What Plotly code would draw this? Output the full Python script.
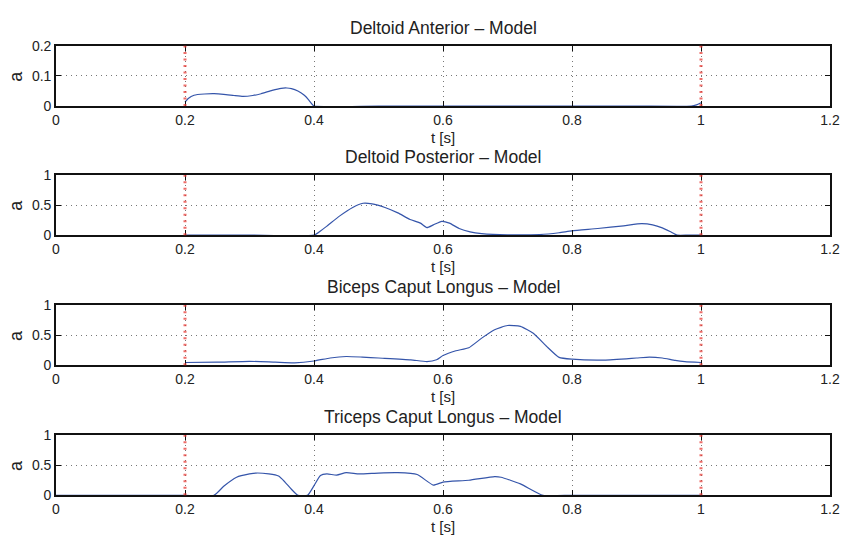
import plotly.graph_objects as go

titles = ["Deltoid Anterior \u2013 Model", "Deltoid Posterior \u2013 Model",
          "Biceps Caput Longus \u2013 Model", "Triceps Caput Longus \u2013 Model"]

# Deltoid Anterior
t1 = [0.2, 0.205, 0.214, 0.23, 0.245, 0.26, 0.276, 0.29, 0.305, 0.318, 0.335, 0.349, 0.358, 0.365, 0.375, 0.385, 0.392, 0.397, 0.4,
      0.5, 0.7, 0.9, 0.985, 0.993, 1.0]
a1 = [0.013, 0.025, 0.036, 0.040, 0.041, 0.039, 0.035, 0.032, 0.035, 0.041, 0.052, 0.059, 0.060, 0.058, 0.050, 0.036, 0.020, 0.006, 0.0,
      0.0, 0.0, 0.0, 0.0, 0.004, 0.011]

# Deltoid Posterior
t2 = [0.2, 0.3, 0.4, 0.41, 0.42, 0.44, 0.46, 0.476, 0.49, 0.51, 0.53, 0.549, 0.565, 0.575, 0.585, 0.598, 0.61, 0.625, 0.642, 0.66,
      0.7, 0.75, 0.78, 0.8, 0.84, 0.88, 0.908, 0.925, 0.94, 0.952, 0.963, 0.98, 1.0]
a2 = [0.0, 0.0, 0.0, 0.07, 0.15, 0.32, 0.46, 0.53, 0.52, 0.46, 0.37, 0.26, 0.20, 0.125, 0.17, 0.23, 0.20, 0.11, 0.054, 0.025,
      0.005, 0.01, 0.04, 0.07, 0.11, 0.155, 0.19, 0.17, 0.12, 0.06, 0.0, 0.0, 0.0]

# Biceps Caput Longus
t3 = [0.2, 0.25, 0.3, 0.34, 0.37, 0.4, 0.425, 0.45, 0.475, 0.5, 0.55, 0.575, 0.59, 0.6, 0.62, 0.64, 0.66, 0.68, 0.7, 0.72,
      0.74, 0.76, 0.78, 0.8, 0.85, 0.9, 0.92, 0.94, 0.96, 0.975, 1.0]
a3 = [0.045, 0.05, 0.065, 0.05, 0.04, 0.07, 0.12, 0.145, 0.135, 0.12, 0.09, 0.06, 0.09, 0.16, 0.24, 0.29, 0.45, 0.59, 0.66, 0.645,
      0.53, 0.32, 0.13, 0.10, 0.085, 0.12, 0.135, 0.12, 0.08, 0.06, 0.045]

# Triceps Caput Longus
t4 = [0.0, 0.1, 0.2, 0.245, 0.26, 0.28, 0.3, 0.31, 0.33, 0.345, 0.355, 0.365, 0.375, 0.39, 0.4, 0.41, 0.42, 0.435, 0.45, 0.47,
      0.5, 0.53, 0.56, 0.585, 0.6, 0.64, 0.68, 0.69, 0.72, 0.755, 0.8, 0.9, 1.0]
a4 = [0.0, 0.0, 0.0, 0.0, 0.15, 0.30, 0.355, 0.37, 0.355, 0.32, 0.22, 0.10, 0.0, 0.0, 0.16, 0.33, 0.355, 0.335, 0.375, 0.355,
      0.37, 0.375, 0.345, 0.17, 0.22, 0.25, 0.31, 0.30, 0.19, 0.0, 0.0, 0.0, 0.0]

series_t = [t1, t2, t3, t4]
series_a = [a1, a2, a3, a4]
y_ranges = [[0, 0.2], [0, 1], [0, 1], [0, 1]]
y_ticks = [[0, 0.1, 0.2], [0, 0.5, 1], [0, 0.5, 1], [0, 0.5, 1]]
y_ticktext = [["0", "0.1", "0.2"], ["0", "0.5", "1"], ["0", "0.5", "1"], ["0", "0.5", "1"]]
x_ticks = [0, 0.2, 0.4, 0.6, 0.8, 1.0, 1.2]
x_ticktext = ["0", "0.2", "0.4", "0.6", "0.8", "1", "1.2"]
markers_t = [0.2, 1.0]

W, H = 845, 546
tops = [39, 172, 306, 440]
ph = 62

txt = "#222"
font = dict(family="Liberation Sans, Arial, sans-serif", size=14, color=txt)
fig = go.Figure()
layout = dict(width=W, height=H, margin=dict(l=56, r=15, t=0, b=0),
              paper_bgcolor="white", plot_bgcolor="white", showlegend=False, font=font)
annotations = []
shapes = []
for i in range(4):
    n = "" if i == 0 else str(i + 1)
    xa, ya = "x" + n, "y" + n
    top = tops[i]
    dom = [1 - (top + ph) / H, 1 - top / H]
    axcommon = dict(showline=True, linecolor="#111", linewidth=1.6, mirror="ticks", ticks="inside",
                    ticklen=5, tickcolor="#111", tickwidth=1.2, showgrid=True, gridcolor="#777",
                    griddash="1px,4px", gridwidth=1, zeroline=False, tickfont=dict(size=14, color=txt))
    layout["xaxis" + n] = dict(axcommon, domain=[0, 1], range=[0, 1.2], tickvals=x_ticks, ticktext=x_ticktext,
                               anchor=ya)
    layout["yaxis" + n] = dict(axcommon, domain=dom, range=y_ranges[i], tickvals=y_ticks[i],
                               ticktext=y_ticktext[i], anchor=xa)
    annotations.append(dict(text=titles[i], xref="x" + n + " domain", yref="y" + n + " domain", x=0.5, y=1,
                            yanchor="middle", yshift=18, showarrow=False, font=dict(size=17.5, color=txt)))
    annotations.append(dict(text="t [s]", xref="x" + n + " domain", yref="y" + n + " domain", x=0.5, y=0,
                            yanchor="middle", yshift=-31, showarrow=False, font=dict(size=15, color=txt)))
    annotations.append(dict(text="a", xref="paper", yref="y" + n + " domain", x=-0.052, xanchor="center",
                            y=0.5, yanchor="middle", textangle=-90, showarrow=False,
                            font=dict(size=18, color=txt)))
    for mt in markers_t:
        shapes.append(dict(type="line", xref=xa, yref="y" + n + " domain", x0=mt, x1=mt, y0=0, y1=1,
                           line=dict(color="rgba(232,60,55,0.75)", width=3, dash="2px,4.5px")))

for i in range(4):
    n = "" if i == 0 else str(i + 1)
    fig.add_trace(go.Scatter(x=series_t[i], y=series_a[i], mode="lines", xaxis="x" + n, yaxis="y" + n,
                             line=dict(color="#3555aa", width=1.2, shape="spline", smoothing=0.5)))

layout["annotations"] = annotations
layout["shapes"] = shapes
fig.update_layout(**layout)
fig.write_html("out.html")
